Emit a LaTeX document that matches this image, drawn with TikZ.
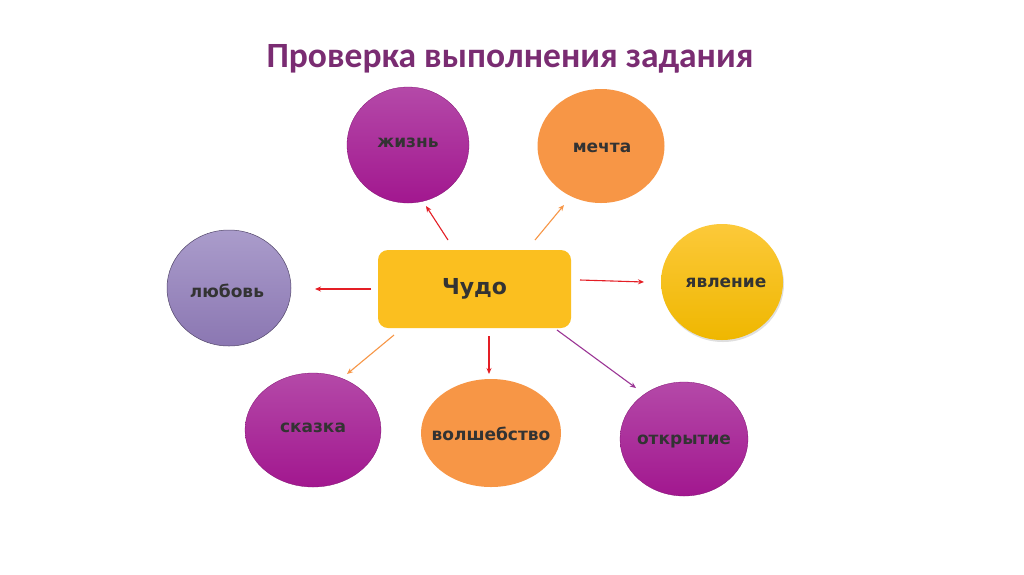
\documentclass[tikz,border=0pt]{standalone}
\usepackage{fontspec}
\setmainfont{DejaVu Sans}
\newfontfamily\titlefont{Carlito}
\usetikzlibrary{shapes.geometric,arrows.meta,shadows}
\definecolor{titlec}{HTML}{7A2C72}
\definecolor{txt}{HTML}{333333}
\definecolor{magtop}{HTML}{B449A8}
\definecolor{magbot}{HTML}{A2178F}
\definecolor{orng}{HTML}{F79646}
\definecolor{lavtop}{HTML}{AA9CCB}
\definecolor{lavbot}{HTML}{8B77B2}
\definecolor{yeltop}{HTML}{FCC93A}
\definecolor{yelbot}{HTML}{EFB700}
\definecolor{boxc}{HTML}{FBBF1F}
\definecolor{arrred}{HTML}{E41E25}
\definecolor{arrpur}{HTML}{9B3595}
\tikzset{
  lbl/.style={text=txt, font=\bfseries\fontsize{17}{19}\selectfont, inner sep=0pt},
  bubble/.style={ellipse, inner sep=0pt},
  magbubble/.style={bubble, top color=magtop, bottom color=magbot, draw=magbot!80!black, line width=0.3pt},
  orbubble/.style={bubble, fill=orng},
  lavbubble/.style={bubble, top color=lavtop, bottom color=lavbot, draw=lavbot!60!black, line width=0.5pt},
  yelbubble/.style={bubble, top color=yeltop, bottom color=yelbot, drop shadow={opacity=0.25, shadow xshift=1pt, shadow yshift=-2pt}},
  conn/.style={line width=1.1pt, -{Stealth[length=6pt,width=5pt]}},
}
\begin{document}
\begin{tikzpicture}[x=1pt,y=-1pt]
\useasboundingbox[fill=white] (0,0) rectangle (1024,574);
\node[text=titlec, font=\titlefont\bfseries\fontsize{35.5}{40}\selectfont] (title) at (510,59) {Проверка выполнения задания};

\node[magbubble, minimum width=122pt, minimum height=116pt] (zhizn) at (408,145) {};
\node[lbl] (zhiznL) at (408,143) {жизнь};
\node[orbubble, minimum width=127pt, minimum height=114pt] (mechta) at (601,146) {};
\node[lbl] (mechtaL) at (602,148) {мечта};
\node[lavbubble, minimum width=124pt, minimum height=116pt] (lyubov) at (229,288) {};
\node[lbl] (lyubovL) at (227,291) {любовь};
\node[yelbubble, minimum width=122pt, minimum height=116pt] (yavl) at (722,282) {};
\node[lbl] (yavlL) at (726,283) {явление};
\node[magbubble, minimum width=136pt, minimum height=114pt] (skazka) at (313,430) {};
\node[lbl] (skazkaL) at (313,428) {сказка};
\node[orbubble, minimum width=140pt, minimum height=108pt] (volsh) at (491,433) {};
\node[lbl] (volshL) at (491,434) {волшебство};
\node[magbubble, minimum width=128pt, minimum height=114pt] (otkr) at (684,439) {};
\node[lbl] (otkrL) at (684,441) {открытие};

\node[rectangle, rounded corners=10pt, fill=boxc, minimum width=193pt, minimum height=78pt, text=txt, font=\bfseries\fontsize{22}{26}\selectfont] (chudo) at (474.5,289) {Чудо};

\coordinate (a1s) at (448,240); \coordinate (a1e) at (426,206);
\coordinate (a2s) at (535,240); \coordinate (a2e) at (564,205);
\coordinate (a3s) at (371,289); \coordinate (a3e) at (315,289);
\coordinate (a4s) at (580,280); \coordinate (a4e) at (644,282);
\coordinate (a5s) at (394,335); \coordinate (a5e) at (347,374);
\coordinate (a6s) at (489,336); \coordinate (a6e) at (489,374);
\coordinate (a7s) at (557,330); \coordinate (a7e) at (636,388);

\draw[conn, arrred] (a1s) -- (a1e);
\draw[conn, orng] (a2s) -- (a2e);
\draw[conn, arrred] (a3s) -- (a3e);
\draw[conn, arrred] (a4s) -- (a4e);
\draw[conn, orng] (a5s) -- (a5e);
\draw[conn, arrred] (a6s) -- (a6e);
\draw[conn, arrpur] (a7s) -- (a7e);
\end{tikzpicture}
\end{document}
